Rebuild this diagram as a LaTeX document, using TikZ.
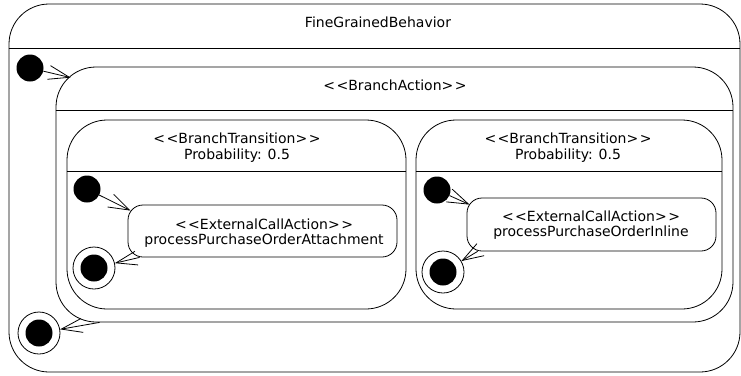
\documentclass[tikz,border=0pt]{standalone}
\usepackage{fontspec}
\setmainfont{DejaVu Sans}
\usetikzlibrary{arrows.meta,calc}
% stereotype brackets, kept apart so they stay two separate glyphs
\newcommand\stereo[1]{<\kern1.5pt<#1>\kern1.5pt>}
\begin{document}
\begin{tikzpicture}[x=1pt,y=-1pt,
  every node/.style={font=\fontsize{14pt}{16pt}\selectfont},
  box/.style={draw, line width=0.8pt, rounded corners=#1, inner sep=0pt},
  box/.default=40pt,
  sepline/.style={line width=0.8pt},
  lbl/.style={anchor=base, inner sep=0pt},
  initstate/.style={circle, fill=black, minimum size=27pt, inner sep=0pt},
  finalstate/.style={circle, draw, line width=0.8pt, minimum size=42pt, inner sep=0pt,
    path picture={\fill[black] (path picture bounding box.center) circle[radius=13.5pt];}},
  arr/.style={line width=0.8pt, -{Straight Barb[length=21pt,width=14pt]}}]
\useasboundingbox (0,0) rectangle (741,375);

% composite states
\node[box, minimum width=731pt, minimum height=368pt] (fgb) at (374.5,188) {};
\node[box, minimum width=677pt, minimum height=255pt] (ba) at (394.5,194.5) {};
\node[box, minimum width=339pt, minimum height=189pt] (bt1) at (236.5,214.5) {};
\node[box, minimum width=306pt, minimum height=189pt] (bt2) at (569,214.5) {};

% header separators
\coordinate (hFgb) at (0,48);
\coordinate (hBa) at (0,110);
\coordinate (hBt) at (0,171);
\draw[sepline] (fgb.west |- hFgb) -- (fgb.east |- hFgb);
\draw[sepline] (ba.west |- hBa) -- (ba.east |- hBa);
\draw[sepline] (bt1.west |- hBt) -- (bt1.east |- hBt);
\draw[sepline] (bt2.west |- hBt) -- (bt2.east |- hBt);

% actions
\node[box=15pt, minimum width=269pt, minimum height=52pt] (eca1) at (262.5,231) {};
\node[box=15pt, minimum width=249pt, minimum height=53pt] (eca2) at (591.5,224.5) {};

% header texts
\node[lbl] (tFgb) at (378,27.3) {FineGrainedBehavior};
\node[lbl] (tBa) at (395,90) {\stereo{BranchAction}};
\node[lbl] (tBt1a) at (237,143) {\stereo{BranchTransition}};
\node[lbl] (tBt1b) at (237,159.3) {Probability: 0.5};
\node[lbl] (tBt2a) at (568,143) {\stereo{BranchTransition}};
\node[lbl] (tBt2b) at (568,159.3) {Probability: 0.5};
\node[lbl] (tE1a) at (264,229) {\stereo{ExternalCallAction}};
\node[lbl] (tE1b) at (264,244) {processPurchaseOrderAttachment};
\node[lbl] (tE2a) at (591,221) {\stereo{ExternalCallAction}};
\node[lbl] (tE2b) at (591,236) {processPurchaseOrderInline};

% pseudo states
\node[initstate] (i0) at (30,68) {};
\node[initstate] (i1) at (87,189) {};
\node[initstate] (i2) at (437,190) {};
\node[finalstate] (f0) at (39,333) {};
\node[finalstate] (f1) at (94,268) {};
\node[finalstate] (f2) at (443,272) {};

% transitions
\coordinate (baIn) at ($(ba.north west)+(15,11)$);
\coordinate (baOut) at ($(ba.south west)+(44,0)$);
\coordinate (e1In) at ($(eca1.north west)+(3,6)$);
\coordinate (e1Out) at ($(eca1.south west)+(12,0)$);
\coordinate (e2In) at ($(eca2.north west)+(3,7)$);
\coordinate (e2Out) at ($(eca2.south west)+(11,0)$);
\draw[arr] (i0) -- (baIn);
\draw[arr] (i1) -- (e1In);
\draw[arr] (e1Out) -- (f1);
\draw[arr] (i2) -- (e2In);
\draw[arr] (e2Out) -- (f2);
\draw[arr] (baOut) -- (f0);
\end{tikzpicture}
\end{document}
